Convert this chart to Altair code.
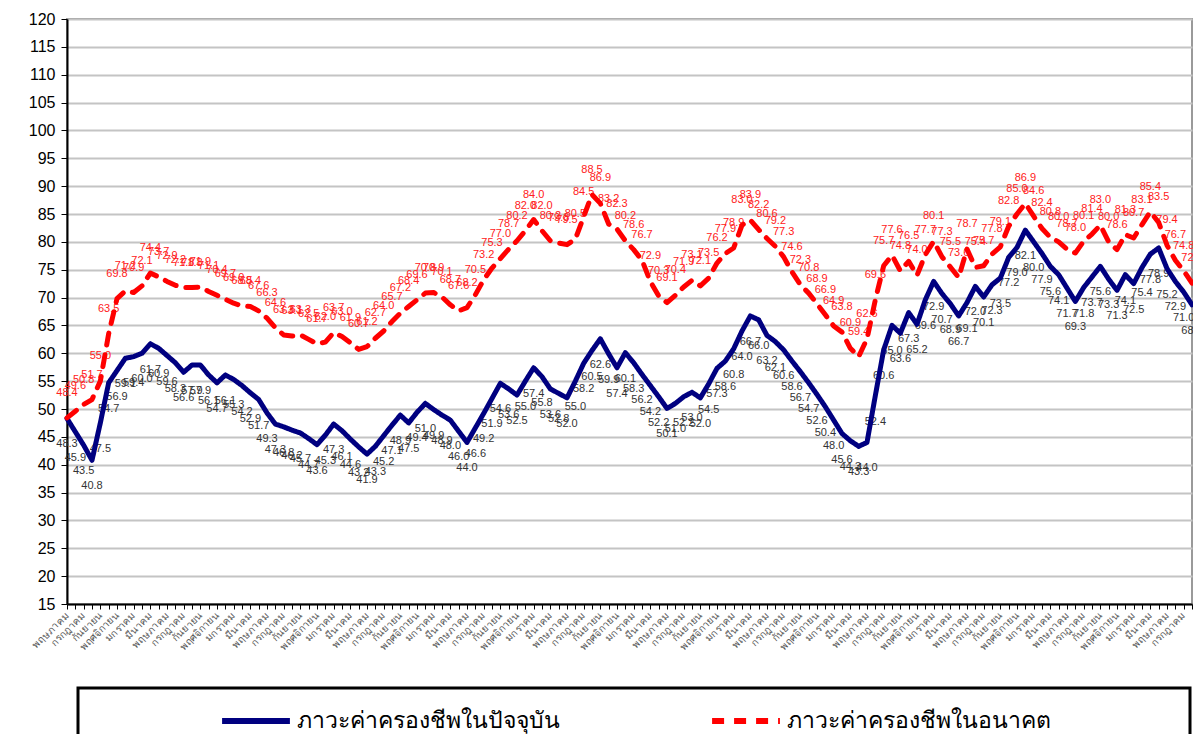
import json
import altair as alt
import pandas as pd

MONTHS_TH = ["มกราคม", "กุมภาพันธ์", "มีนาคม", "เมษายน", "พฤษภาคม", "มิถุนายน",
             "กรกฎาคม", "สิงหาคม", "กันยายน", "ตุลาคม", "พฤศจิกายน", "ธันวาคม"]
START_MONTH = 4  # first point is May

SERIES = ["ภาวะค่าครองชีพในปัจจุบัน", "ภาวะค่าครองชีพในอนาคต"]

current = [
    48.3, 45.9, 43.5, 40.8, 47.5, 54.7, 56.9, 59.1, 59.4, 60.0,
    61.7, 60.9, 59.6, 58.3, 56.6, 57.9, 57.9, 56.1, 54.7, 56.1,
    55.3, 54.2, 52.9, 51.7, 49.3, 47.3, 46.8, 46.2, 45.7, 44.7,
    43.6, 45.3, 47.3, 46.1, 44.6, 43.2, 41.9, 43.3, 45.2, 47.1,
    48.9, 47.5, 49.4, 51.0, 49.9, 48.9, 48.0, 46.0, 44.0, 46.6,
    49.2, 51.9, 54.6, 53.6, 52.5, 55.0, 57.4, 55.8, 53.6, 52.8,
    52.0, 55.0, 58.2, 60.5, 62.6, 59.9, 57.4, 60.1, 58.3, 56.2,
    54.2, 52.2, 50.1, 51.0, 52.2, 53.0, 52.0, 54.5, 57.3, 58.6,
    60.8, 64.0, 66.7, 66.0, 63.2, 62.1, 60.6, 58.6, 56.7, 54.7,
    52.6, 50.4, 48.0, 45.6, 44.3, 43.3, 44.0, 52.4, 60.6, 65.0,
    63.6, 67.3, 65.2, 69.6, 72.9, 70.7, 68.9, 66.7, 69.1, 72.0,
    70.1, 72.3, 73.5, 77.2, 79.0, 82.1, 80.0, 77.9, 75.6, 74.1,
    71.7, 69.3, 71.8, 73.7, 75.6, 73.3, 71.3, 74.1, 72.5, 75.4,
    77.8, 78.9, 75.2, 72.9, 71.0, 68.7,
]

future = [
    48.4, 49.6, 50.8, 51.7, 55.0, 63.5, 69.8, 71.2, 70.9, 72.1,
    74.4, 73.7, 72.9, 72.2, 71.8, 71.8, 71.9, 71.1, 70.4, 69.7,
    69.0, 68.5, 68.4, 67.6, 66.3, 64.6, 63.3, 63.1, 63.3, 62.5,
    61.7, 62.0, 63.7, 63.0, 61.9, 60.7, 61.2, 62.7, 64.0, 65.7,
    67.2, 68.4, 69.6, 70.8, 70.9, 70.1, 68.7, 67.6, 68.2, 70.5,
    73.2, 75.3, 77.0, 78.7, 80.2, 82.0, 84.0, 82.0, 80.2, 79.8,
    79.5, 80.5, 84.5, 88.5, 86.9, 83.2, 82.3, 80.2, 78.6, 76.7,
    72.9, 70.3, 69.1, 70.4, 71.9, 73.1, 72.1, 73.5, 76.2, 77.9,
    78.9, 83.0, 83.9, 82.2, 80.6, 79.2, 77.3, 74.6, 72.3, 70.8,
    68.9, 66.9, 64.9, 63.8, 60.9, 59.4, 62.6, 69.6, 75.7, 77.6,
    74.8, 76.5, 74.0, 77.7, 80.1, 77.3, 75.5, 73.6, 78.7, 75.4,
    75.7, 77.8, 79.1, 82.8, 85.0, 86.9, 84.6, 82.4, 80.8, 80.0,
    78.7, 78.0, 80.1, 81.4, 83.0, 80.0, 78.6, 81.3, 80.7, 83.1,
    85.4, 83.5, 79.4, 76.7, 74.8, 72.6,
]

Y_TICKS = list(range(15, 121, 5))

n = len(current)
rows = []
for s, vals in zip(SERIES, [current, future]):
    for i, v in enumerate(vals):
        rows.append({"i": i, "value": v, "series": s})
df = pd.DataFrame(rows)

label_expr = (
    "toNumber(datum.value) % 2 == 0 ? "
    + json.dumps(MONTHS_TH, ensure_ascii=False)
    + f"[(toNumber(datum.value) + {START_MONTH}) % 12] : ''"
)

x_enc = alt.X(
    "i:O",
    sort="ascending",
    scale=alt.Scale(type="point", padding=0),
    axis=alt.Axis(
        labelExpr=label_expr, labelAngle=315,
        labelAlign="right", labelBaseline="middle", labelFontSize=10,
        labelColor="#555555", labelFont="Noto Sans", labelOverlap=False,
        labelBound=False, labelPadding=4,
        tickSize=5, tickColor="#000000", tickWidth=1,
        domainColor="#000000", domainWidth=2, grid=False, title=None,
    ),
)
y_enc = alt.Y(
    "value:Q",
    scale=alt.Scale(domain=[15, 120], nice=False, zero=False),
    axis=alt.Axis(
        values=Y_TICKS, tickCount=len(Y_TICKS), labelOverlap=False,
        labelFontSize=16, labelColor="#000000",
        labelFont="Liberation Sans", labelPadding=6, tickSize=6,
        tickColor="#000000", domainColor="#000000", domainWidth=2,
        gridColor="#c4c4c4", gridWidth=2, title=None,
    ),
)

leg = alt.Legend(
    orient="none", legendX=152, legendY=665, direction="horizontal",
    title=None, symbolType="stroke", symbolSize=4600, symbolStrokeWidth=6,
    labelFontSize=23, labelFont="Noto Sans", labelColor="#000000",
    columnPadding=140, labelLimit=500, labelOffset=4,
)

color_enc = alt.Color(
    "series:N",
    scale=alt.Scale(domain=SERIES, range=["#000080", "#ff0000"]),
    legend=leg,
)
dash_enc = alt.StrokeDash(
    "series:N",
    scale=alt.Scale(domain=SERIES, range=[[1, 0], [12, 10]]),
    legend=leg,
)

base = alt.Chart(df)

lines = base.mark_line(strokeWidth=5, strokeCap="round", strokeJoin="round").encode(
    x=x_enc, y=y_enc, color=color_enc, strokeDash=dash_enc,
    order="i:Q",
)

lbl_cur = base.transform_filter(alt.datum.series == SERIES[0]).mark_text(
    fontSize=11, font="Liberation Sans", color="#333333", dy=26,
).encode(x=x_enc, y=y_enc, text=alt.Text("value:Q", format=".1f"))

lbl_fut = base.transform_filter(alt.datum.series == SERIES[1]).mark_text(
    fontSize=11, font="Liberation Sans", color="#ff2020", dy=-25,
).encode(x=x_enc, y=y_enc, text=alt.Text("value:Q", format=".1f"))

frame = alt.Chart(alt.Data(values=[{"k": 1}])).mark_rect(
    fill="#ffffff", fillOpacity=0, stroke="#000000", strokeWidth=3, clip=False,
).encode(
    x=alt.value(11), x2=alt.value(1123), y=alt.value(669), y2=alt.value(760),
)

chart = alt.layer(frame, lbl_cur, lbl_fut, lines).properties(
    width=1125, height=585,
    padding={"left": 59, "top": 11, "right": 1, "bottom": 130},
    autosize=alt.AutoSizeParams(type="none"),
).configure_view(stroke="#9a9a9a", strokeWidth=2)

chart.save("out.html", embed_options={"renderer": "svg", "actions": False})
